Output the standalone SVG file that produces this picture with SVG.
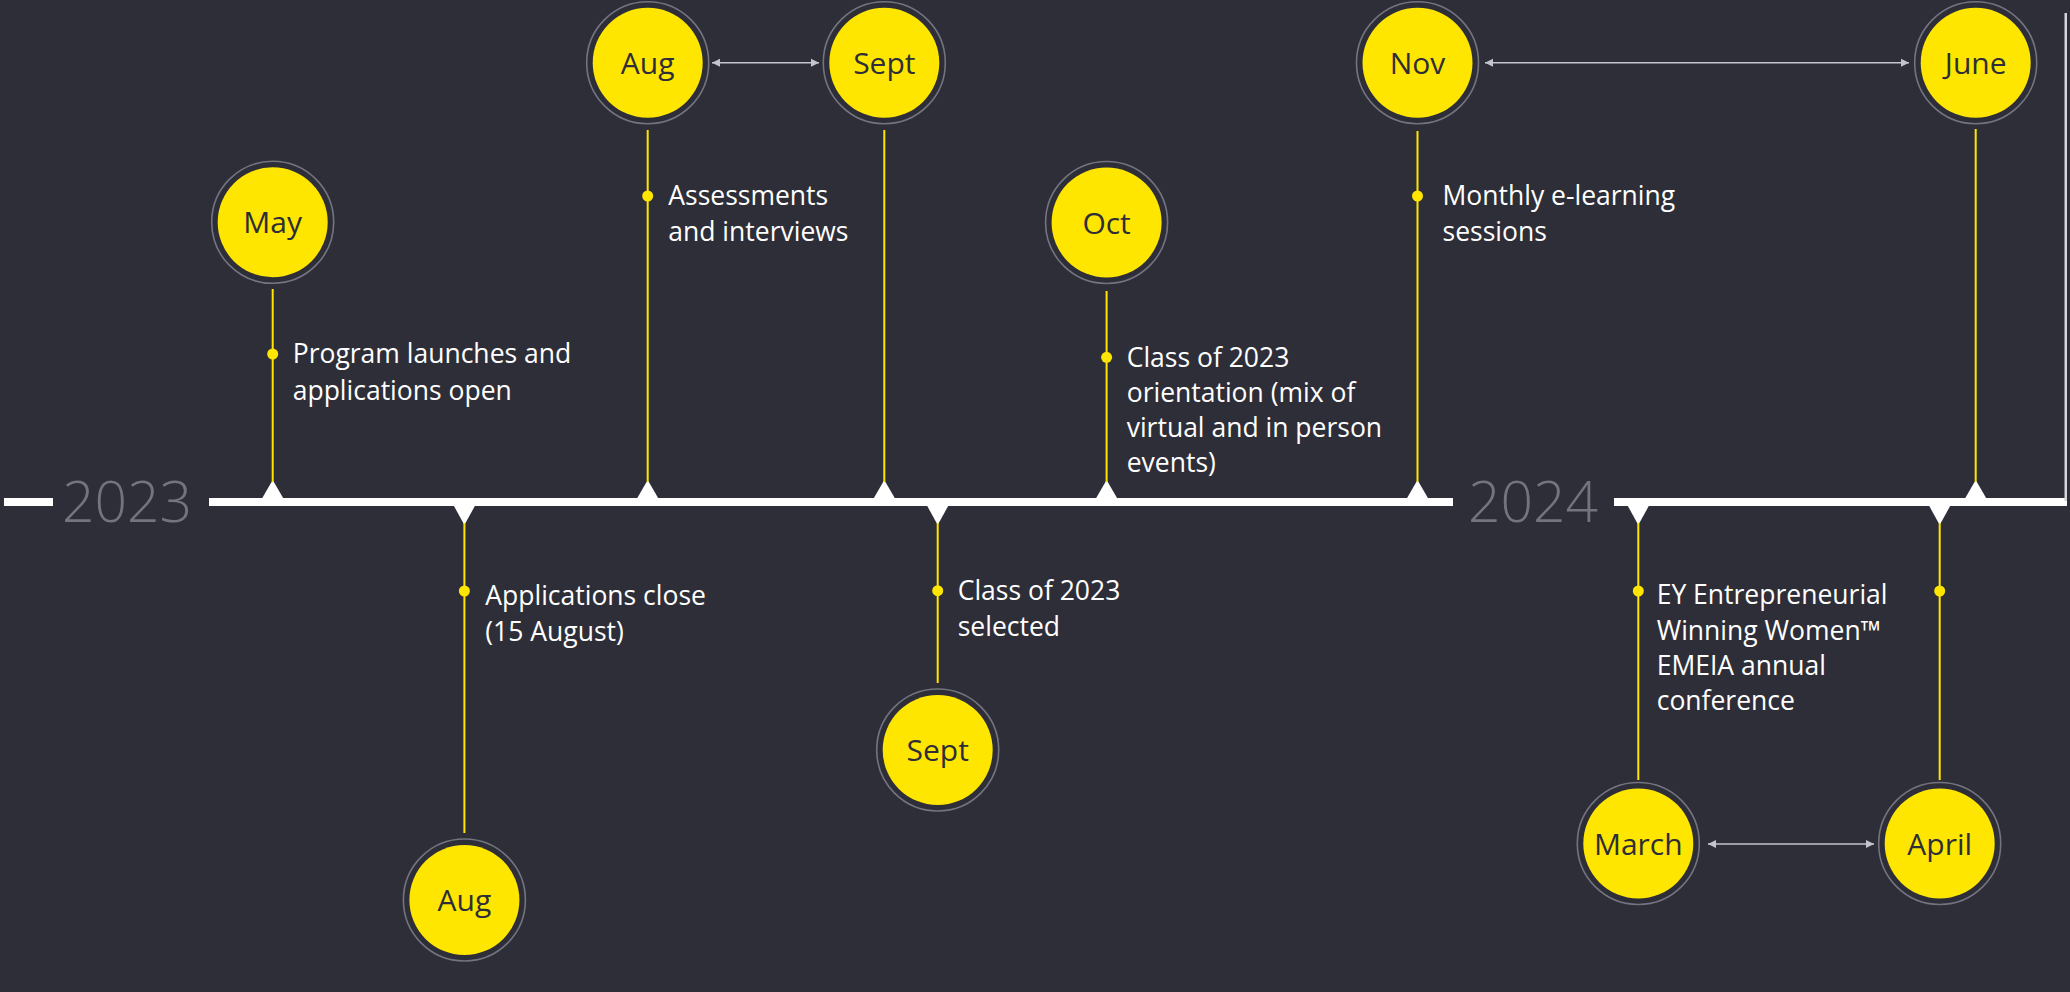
<svg xmlns="http://www.w3.org/2000/svg" width="2070" height="992" viewBox="0 0 2070 992">
<defs>
<style>
.bg{fill:#2e2e38}
.bar{fill:#ffffff}
.edge{fill:#d4d4da}
.ring{fill:none;stroke:#747480;stroke-width:1.6}
.disc{fill:#ffe600}
.mon{font-family:"Open Sans","Liberation Sans",sans-serif;font-weight:400;font-size:30px;fill:#2e2e38;text-anchor:middle}
.lbl{font-family:"Open Sans","Liberation Sans",sans-serif;font-weight:400;font-size:26.5px;fill:#ffffff}
.yr{font-family:"Open Sans","Liberation Sans",sans-serif;font-weight:300;font-size:57px;fill:#747480}
.stem{stroke:#ffe600;stroke-width:2;fill:none}
.dot{fill:#ffe600}
.tick{fill:#ffffff}
.arr{stroke:#c4c4cd;stroke-width:1.6;fill:none;marker-start:url(#ah);marker-end:url(#ah)}
</style>
<marker id="ah" viewBox="0 0 10 10" refX="10" refY="5" markerWidth="8" markerHeight="9" markerUnits="userSpaceOnUse" orient="auto-start-reverse">
<path d="M0,0 L10,5 L0,10 z" fill="#c4c4cd"/>
</marker>
</defs>
<rect class="bg" x="0" y="0" width="2070" height="992"/>

<g id="timeline">
<rect class="bar" x="4" y="498" width="49" height="8"/>
<rect class="bar" x="209" y="498" width="1244" height="8"/>
<rect class="bar" x="1614" y="498" width="453" height="8"/>
<rect class="edge" x="2064.5" y="13" width="2.5" height="488"/>
<text class="yr" x="62" y="522">2023</text>
<text class="yr" x="1468" y="522">2024</text>
<path class="tick" d="M261.7,499 L272.7,480 L283.7,499 Z"/>
<path class="tick" d="M636.7,499 L647.7,480 L658.7,499 Z"/>
<path class="tick" d="M873.3,499 L884.3,480 L895.3,499 Z"/>
<path class="tick" d="M1095.6,499 L1106.6,480 L1117.6,499 Z"/>
<path class="tick" d="M1406.5,499 L1417.5,480 L1428.5,499 Z"/>
<path class="tick" d="M1964.7,499 L1975.7,480 L1986.7,499 Z"/>
<path class="tick" d="M453.4,505 L464.4,525 L475.4,505 Z"/>
<path class="tick" d="M926.7,505 L937.7,525 L948.7,505 Z"/>
<path class="tick" d="M1627.3,505 L1638.3,525 L1649.3,505 Z"/>
<path class="tick" d="M1928.7,505 L1939.7,525 L1950.7,505 Z"/>
</g>

<g id="connectors">
<line class="arr" x1="712" y1="62.8" x2="819" y2="62.8"/>
<line class="arr" x1="1485" y1="62.8" x2="1909" y2="62.8"/>
<line class="arr" x1="1708" y1="844" x2="1874" y2="844"/>
</g>

<g id="may">
<line class="stem" x1="272.7" y1="289" x2="272.7" y2="482"/>
<circle class="dot" cx="272.7" cy="354" r="5.5"/>
<circle class="ring" cx="272.7" cy="222.3" r="61"/>
<circle class="disc" cx="272.7" cy="222.3" r="55"/>
<text class="mon" x="272.7" y="233.3">May</text>
<text class="lbl" x="292.7" y="363.3">Program launches and</text>
<text class="lbl" x="292.7" y="399.6">applications open</text>
</g>

<g id="aug-top">
<line class="stem" x1="647.7" y1="130" x2="647.7" y2="482"/>
<circle class="dot" cx="647.7" cy="196" r="5.5"/>
<circle class="ring" cx="647.7" cy="62.8" r="61"/>
<circle class="disc" cx="647.7" cy="62.8" r="55"/>
<text class="mon" x="647.7" y="73.8">Aug</text>
<text class="lbl" x="668.3" y="205">Assessments</text>
<text class="lbl" x="668.3" y="240.7">and interviews</text>
</g>

<g id="sept-top">
<line class="stem" x1="884.3" y1="130" x2="884.3" y2="482"/>
<circle class="ring" cx="884.3" cy="62.8" r="61"/>
<circle class="disc" cx="884.3" cy="62.8" r="55"/>
<text class="mon" x="884.3" y="73.8">Sept</text>
</g>

<g id="oct">
<line class="stem" x1="1106.6" y1="291" x2="1106.6" y2="482"/>
<circle class="dot" cx="1106.6" cy="357.3" r="5.5"/>
<circle class="ring" cx="1106.6" cy="222.5" r="61"/>
<circle class="disc" cx="1106.6" cy="222.5" r="55"/>
<text class="mon" x="1106.6" y="233.5">Oct</text>
<text class="lbl" x="1126.7" y="367.3">Class of 2023</text>
<text class="lbl" x="1126.7" y="402.3">orientation (mix of</text>
<text class="lbl" x="1126.7" y="437.3">virtual and in person</text>
<text class="lbl" x="1126.7" y="472">events)</text>
</g>

<g id="nov">
<line class="stem" x1="1417.5" y1="131" x2="1417.5" y2="482"/>
<circle class="dot" cx="1417.5" cy="196" r="5.5"/>
<circle class="ring" cx="1417.5" cy="62.8" r="61"/>
<circle class="disc" cx="1417.5" cy="62.8" r="55"/>
<text class="mon" x="1417.5" y="73.8">Nov</text>
<text class="lbl" x="1442.5" y="205">Monthly e-learning</text>
<text class="lbl" x="1442.5" y="240.7">sessions</text>
</g>

<g id="june">
<line class="stem" x1="1975.7" y1="129" x2="1975.7" y2="482"/>
<circle class="ring" cx="1975.7" cy="62.8" r="61"/>
<circle class="disc" cx="1975.7" cy="62.8" r="55"/>
<text class="mon" x="1975.7" y="73.8">June</text>
</g>

<g id="aug-bottom">
<line class="stem" x1="464.4" y1="523" x2="464.4" y2="833"/>
<circle class="dot" cx="464.4" cy="591" r="5.5"/>
<circle class="ring" cx="464.4" cy="900" r="61"/>
<circle class="disc" cx="464.4" cy="900" r="55"/>
<text class="mon" x="464.4" y="911">Aug</text>
<text class="lbl" x="485.3" y="605">Applications close</text>
<text class="lbl" x="485.3" y="640.7">(15 August)</text>
</g>

<g id="sept-bottom">
<line class="stem" x1="937.7" y1="523" x2="937.7" y2="683"/>
<circle class="dot" cx="937.7" cy="590.7" r="5.5"/>
<circle class="ring" cx="937.7" cy="750" r="61"/>
<circle class="disc" cx="937.7" cy="750" r="55"/>
<text class="mon" x="937.7" y="761">Sept</text>
<text class="lbl" x="957.7" y="600">Class of 2023</text>
<text class="lbl" x="957.7" y="636">selected</text>
</g>

<g id="march">
<line class="stem" x1="1638.3" y1="523" x2="1638.3" y2="780"/>
<circle class="dot" cx="1638.3" cy="591" r="5.5"/>
<circle class="ring" cx="1638.3" cy="843.5" r="61"/>
<circle class="disc" cx="1638.3" cy="843.5" r="55"/>
<text class="mon" x="1638.3" y="854.5">March</text>
<text class="lbl" x="1656.7" y="604.3">EY Entrepreneurial</text>
<text class="lbl" x="1656.7" y="639.6">Winning Women™</text>
<text class="lbl" x="1656.7" y="674.9">EMEIA annual</text>
<text class="lbl" x="1656.7" y="710.2">conference</text>
</g>

<g id="april">
<line class="stem" x1="1939.7" y1="523" x2="1939.7" y2="780"/>
<circle class="dot" cx="1939.7" cy="591" r="5.5"/>
<circle class="ring" cx="1939.7" cy="843.5" r="61"/>
<circle class="disc" cx="1939.7" cy="843.5" r="55"/>
<text class="mon" x="1939.7" y="854.5">April</text>
</g>
</svg>
